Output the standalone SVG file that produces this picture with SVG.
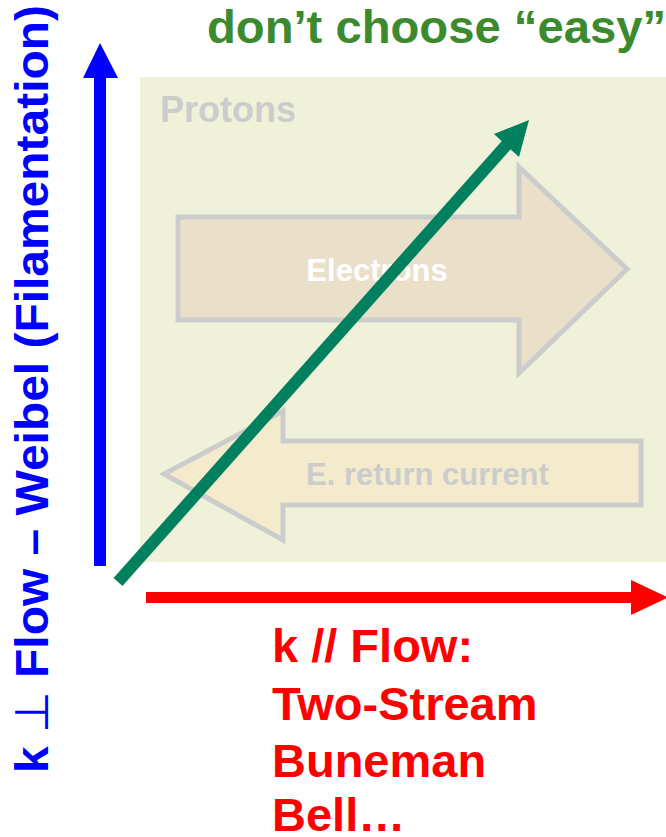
<svg xmlns="http://www.w3.org/2000/svg" width="666" height="837" viewBox="0 0 666 837">
<style>
  text { font-family: "Liberation Sans", Arial, sans-serif; font-weight: bold; }
  .block { stroke: #CCCCCC; stroke-width: 5; stroke-linejoin: miter; }
  .red { fill: #FF0000; font-size: 47px; }
</style>
<rect width="666" height="837" fill="#FFFFFF"/>
<g id="title">
  <text x="207" y="43" font-size="46" fill="#3C8A2E" textLength="459" lengthAdjust="spacingAndGlyphs">don’t choose “easy”</text>
</g>
<g id="plasma">
  <rect x="140" y="77" width="526" height="485" fill="#EFF2D8"/>
  <text x="160" y="122" font-size="36" fill="#CCCCCC">Protons</text>
</g>
<g id="electrons">
  <polygon class="block" fill="#EAE0CA" points="178,217 519,217 519,167 627,269 519,373 519,320 178,320"/>
  <text x="377" y="281" font-size="31" fill="#FFFFFF" text-anchor="middle">Electrons</text>
</g>
<g id="return-current">
  <polygon class="block" fill="#F4EBCC" points="641,441 283,441 283,411 164,474 283,540 283,505 641,505"/>
  <text x="306" y="485" font-size="31" fill="#CCCCCC">E. return current</text>
</g>
<g id="connectors">
  <g id="axis-perp">
    <rect x="94" y="77" width="12" height="489" fill="#0000FF"/>
    <polygon points="83,78 100,43 118,78" fill="#0000FF"/>
  </g>
  <g id="axis-par">
    <rect x="146" y="592" width="488" height="11" fill="#FF0000"/>
    <polygon points="631,580 668,597.5 631,615" fill="#FF0000"/>
  </g>
  <g id="diagonal">
    <line x1="118" y1="582" x2="509" y2="142" stroke="#00805F" stroke-width="12"/>
    <polygon points="529,120 519,157 494,134" fill="#00805F"/>
  </g>
</g>
<g id="label-perp">
  <text x="48" y="773" font-size="47" fill="#0000FF" transform="rotate(-90 48 773)" textLength="768" lengthAdjust="spacingAndGlyphs">k <tspan font-weight="normal" font-family="DejaVu Sans, sans-serif">⊥</tspan> Flow – Weibel (Filamentation)</text>
</g>
<g id="label-par">
  <text class="red" x="272" y="662">k // Flow:</text>
  <text class="red" x="272" y="720">Two-Stream</text>
  <text class="red" x="272" y="777">Buneman</text>
  <text class="red" x="272" y="831">Bell…</text>
</g>
</svg>
